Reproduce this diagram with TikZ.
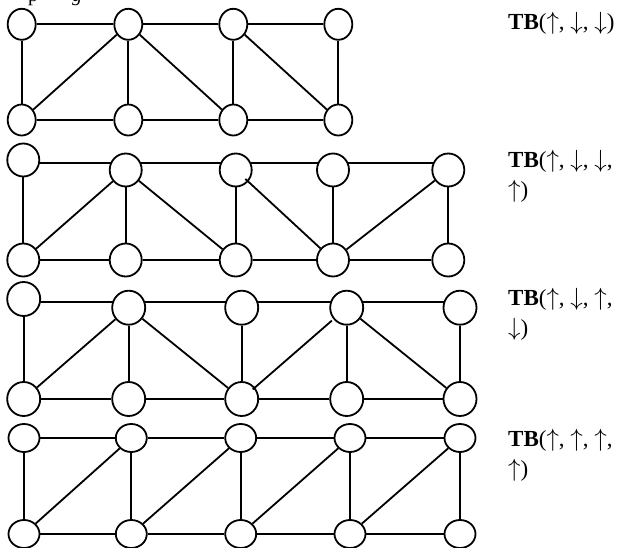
\documentclass[tikz,border=0pt]{standalone}
\usepackage{fontspec}
\setmainfont{Liberation Serif}
\usetikzlibrary{shapes.geometric,backgrounds}
\tikzset{
  vbase/.style={ellipse, draw, line width=1.8pt, fill=white, inner sep=0pt},
  va/.style={vbase, minimum width=28pt, minimum height=31pt},
  vb/.style={vbase, minimum width=32pt, minimum height=33pt},
  vc/.style={vbase, minimum width=33pt, minimum height=34pt},
  vd/.style={vbase, minimum width=31pt, minimum height=28pt},
  edge/.style={line width=1.8pt},
  lbl/.style={anchor=base west, inner sep=0pt, font=\fontsize{23}{30}\selectfont},
  lbltwo/.style={anchor=north west, inner sep=0pt, align=left, font=\fontsize{23}{30}\selectfont},
  cut/.style={anchor=base west, inner sep=0pt, font=\fontsize{20}{24}\selectfont}
}
\begin{document}
\begin{tikzpicture}[x=1pt,y=-1pt]
\useasboundingbox (0,0) rectangle (622,548);
% cut-off caption fragment at the very top
\begin{scope}
\clip (0,0) rectangle (622,548);
\node[cut] (frag1) at (28,2) {p};
\node[cut] (frag2) at (72,2) {\textit{g}};
\end{scope}
% ---------- row 1 ----------
\foreach \i/\x in {0/21.7,1/128.3,2/233.3,3/338.3}{
  \node[va] (r1t\i) at (\x,24.3) {};
  \node[va] (r1b\i) at (\x,120) {};
}
% ---------- row 2 ----------
\node[vb] (r2t0) at (23.3,160) {};
\foreach \i/\x in {1/125.7,2/235.7,3/333,4/448.3}{
  \node[vb] (r2t\i) at (\x,170) {};
}
\foreach \i/\x in {0/23.3,1/125.7,2/235.7,3/333,4/448.3}{
  \node[vb] (r2b\i) at (\x,260) {};
}
% ---------- row 3 ----------
\node[vc] (r3t0) at (23.7,299) {};
\foreach \i/\x in {1/128.7,2/241.7,3/346.7,4/460}{
  \node[vc] (r3t\i) at (\x,307.7) {};
}
\foreach \i/\x in {0/23.7,1/128.7,2/241.7,3/346.7,4/460}{
  \node[vc] (r3b\i) at (\x,399) {};
}
% ---------- row 4 ----------
\foreach \i/\x in {0/24,1/131.3,2/240.7,3/350,4/460}{
  \node[vd] (r4t\i) at (\x,438) {};
}
\foreach \i/\x in {0/24,1/131.3,2/240.7,3/350,4/460}{
  \node[vd] (r4b\i) at (\x,534) {};
}
\coordinate (r2line) at (0,163);
\coordinate (r3line) at (0,302);
\begin{pgfonlayer}{background}
% row 1
\draw[edge] (r1t0) -- (r1t1) -- (r1t2) -- (r1t3);
\draw[edge] (r1b0) -- (r1b1) -- (r1b2) -- (r1b3);
\foreach \i in {0,...,3}{\draw[edge] (r1t\i) -- (r1b\i);}
\draw[edge] (r1t1) -- (r1b0);
\draw[edge] (r1t1) -- (r1b2);
\draw[edge] (r1t2) -- (r1b3);
% row 2
\draw[edge] (r2t0 |- r2line) -- (r2t4 |- r2line);
\draw[edge] (r2b0) -- (r2b1) -- (r2b2) -- (r2b3) -- (r2b4);
\foreach \i in {0,...,4}{\draw[edge] (r2t\i) -- (r2b\i);}
\draw[edge] (r2t1) -- (r2b0);
\draw[edge] (r2t1) -- (r2b2);
\draw[edge] (r2t4) -- (r2b3);
% row 3
\draw[edge] (r3t0 |- r3line) -- (r3t4 |- r3line);
\draw[edge] (r3b0) -- (r3b1) -- (r3b2) -- (r3b3) -- (r3b4);
\foreach \i in {0,...,4}{\draw[edge] (r3t\i) -- (r3b\i);}
\draw[edge] (r3t1) -- (r3b0);
\draw[edge] (r3t1) -- (r3b2);
\draw[edge] (r3t3) -- (r3b4);
% row 4
\draw[edge] (r4t0) -- (r4t1) -- (r4t2) -- (r4t3) -- (r4t4);
\draw[edge] (r4b0) -- (r4b1) -- (r4b2) -- (r4b3) -- (r4b4);
\foreach \i in {0,...,4}{\draw[edge] (r4t\i) -- (r4b\i);}
\draw[edge] (r4t1) -- (r4b0);
\draw[edge] (r4t2) -- (r4b1);
\draw[edge] (r4t3) -- (r4b2);
\draw[edge] (r4t4) -- (r4b3);
\end{pgfonlayer}
% diagonals that poke into a circle
\draw[edge, shorten <=-4pt] (r2t2) -- (r2b3);
\draw[edge, shorten <=2pt, shorten >=-3pt] (r3t3) -- (r3b2);
% labels
\node[lbl] (l1) at (508,30) {\textbf{TB}($\uparrow$, $\downarrow$, $\downarrow$)};
\node[lbltwo] (l2) at (508,150) {\textbf{TB}($\uparrow$, $\downarrow$, $\downarrow$,\\$\uparrow$)};
\node[lbltwo] (l3) at (508,288) {\textbf{TB}($\uparrow$, $\downarrow$, $\uparrow$,\\$\downarrow$)};
\node[lbltwo] (l4) at (508,429) {\textbf{TB}($\uparrow$, $\uparrow$, $\uparrow$,\\$\uparrow$)};
\end{tikzpicture}
\end{document}
